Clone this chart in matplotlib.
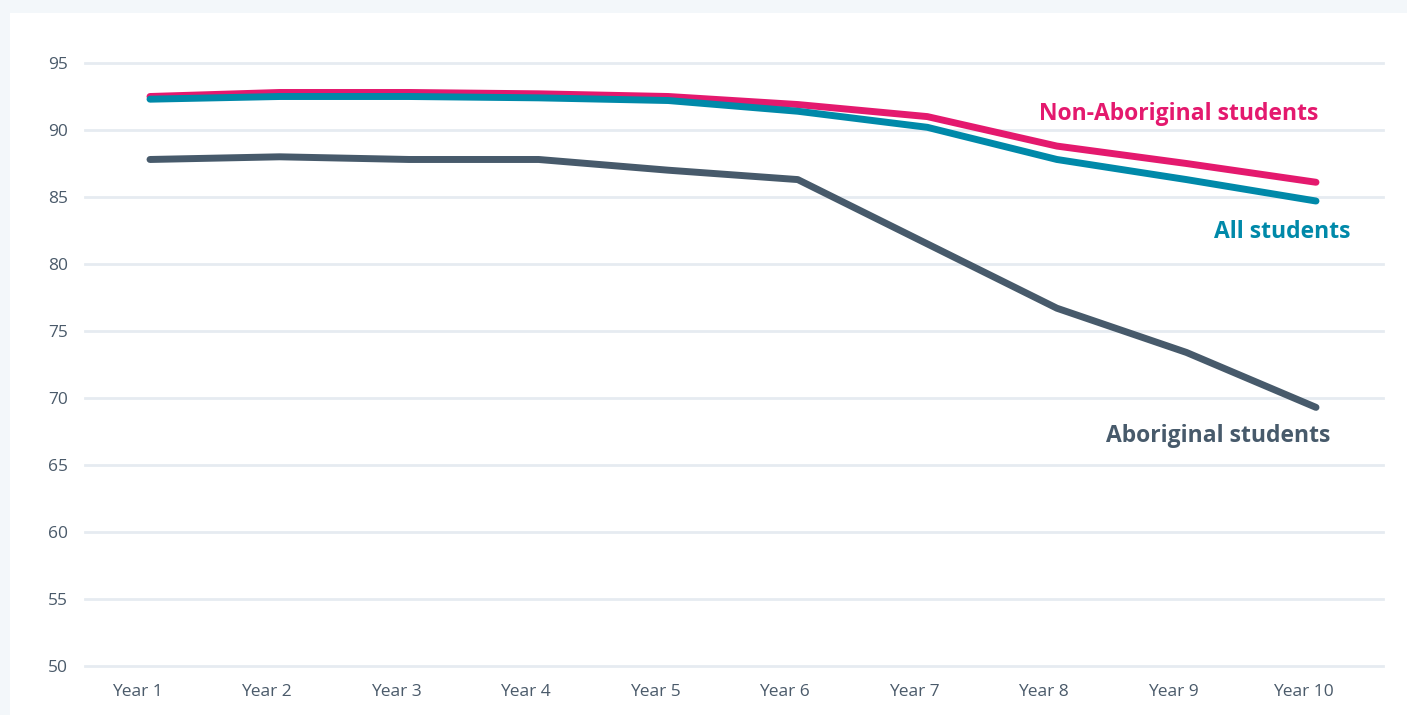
import matplotlib
matplotlib.use("Agg")
import matplotlib.pyplot as plt
import matplotlib.transforms as mtransforms

years = ["Year 1", "Year 2", "Year 3", "Year 4", "Year 5", "Year 6", "Year 7", "Year 8", "Year 9", "Year 10"]
non_aboriginal = [92.5, 92.8, 92.8, 92.7, 92.5, 91.9, 91.0, 88.8, 87.5, 86.1]
all_students = [92.3, 92.5, 92.5, 92.4, 92.2, 91.4, 90.2, 87.8, 86.3, 84.7]
aboriginal = [87.8, 88.0, 87.8, 87.8, 87.0, 86.3, 81.5, 76.7, 73.4, 69.3]
yticks = [50, 55, 60, 65, 70, 75, 80, 85, 90, 95]

plt.rcParams['font.family'] = ['Open Sans', 'DejaVu Sans']

W, H = 1407, 715
fig = plt.figure(figsize=(W / 100, H / 100), dpi=100)
fig.patch.set_facecolor("#f3f7fa")
bg = fig.add_axes([10 / W, 0, 1 - 10 / W, 1 - 13 / H], zorder=-10)
bg.set_facecolor("white")
bg.set_xticks([])
bg.set_yticks([])
for s in bg.spines.values():
    s.set_visible(False)

left, right = 85 / W, 1383 / W
bottom, top = 1 - 666 / H, 1 - 63 / H
ax = fig.add_axes([left, bottom, right - left, top - bottom], zorder=1)
ax.set_facecolor("none")

x = list(range(len(years)))
step = (1316 - 150) / 9
ax.set_xlim((85 - 150) / step, 9 + (1383 - 1316) / step)
ax.set_ylim(50, 95)

for t in yticks:
    ax.axhline(t, color="#e6ebf1", lw=2, zorder=1, clip_on=False)

c_non = "#e4196e"
c_all = "#0089a9"
c_abo = "#475a6b"
kw = dict(lw=5, solid_capstyle="round", solid_joinstyle="round", clip_on=False)
ax.plot(x, aboriginal, color=c_abo, zorder=3, **kw)
ax.plot(x, non_aboriginal, color=c_non, zorder=3, **kw)
ax.plot(x, all_students, color=c_all, zorder=4, **kw)

for s in ax.spines.values():
    s.set_visible(False)
ax.set_yticks(yticks)
ax.set_yticklabels([str(t) for t in yticks])
ax.set_xticks(x)
ax.set_xticklabels(years)
ax.tick_params(length=0, labelsize=12.5, colors="#4a5a6a")
ax.tick_params(axis="y", pad=12)
ax.tick_params(axis="x", pad=13)
shift = mtransforms.ScaledTranslation(-13 / 100, 0, fig.dpi_scale_trans)
for lab in ax.get_xticklabels():
    lab.set_transform(lab.get_transform() + shift)

lab_kw = dict(fontsize=16.5, fontweight="bold", ha="right", va="center")
ax.text(9 + (1318 - 1316) / step, 91.2, "Non-Aboriginal students", color=c_non, **lab_kw)
ax.text(9 + (1351 - 1316) / step, 82.4, "All students", color=c_all, **lab_kw)
ax.text(9 + (1330 - 1316) / step, 67.2, "Aboriginal students", color=c_abo, **lab_kw)

fig.savefig("out.png", dpi=100, facecolor=fig.get_facecolor())
